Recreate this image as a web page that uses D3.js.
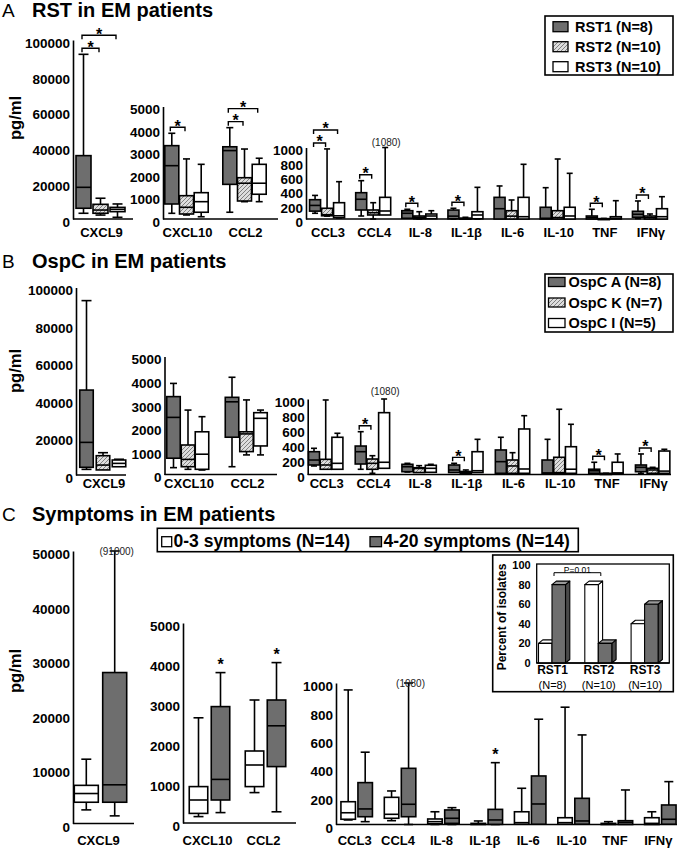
<!DOCTYPE html>
<html><head><meta charset="utf-8">
<script src="https://cdn.jsdelivr.net/npm/d3@7"></script>
<style>
body{margin:0;background:#fff;}
svg text{font-family:"Liberation Sans",Arial,Helvetica,sans-serif;}
</style></head><body>
<svg id="c" width="678" height="848"></svg>
<script>
// ---------------- DATA ----------------
const allCats = ["CXCL9","CXCL10","CCL2","CCL3","CCL4","IL-8","IL-1β","IL-6","IL-10","TNF","IFNγ"];
const yTicksBig = [0,20000,40000,60000,80000,100000];
const yTicksBigC = [0,10000,20000,30000,40000,50000];
const yTicksMid = [0,1000,2000,3000,4000,5000];
const yTicksSmall = [0,200,400,600,800,1000];

const seriesA = ["RST1 (N=8)","RST2 (N=10)","RST3 (N=10)"];
const seriesB = ["OspC A (N=8)","OspC K (N=7)","OspC I (N=5)"];
const seriesC = ["0-3 symptoms (N=14)","4-20 symptoms (N=14)"];

// box stats: [low whisker, Q1, median, Q3, high whisker] per category of allCats
const rst1 = [[3200,6000,17700,35400,92000],[253,667,2370,3260,3810],[300,1540,3040,3210,4060],
  [80,110,190,270,330],[42,126,276,368,536],[10,10,80,116,136],[0,3,40,125,150],
  [0,0,144,303,462],[0,0,10,164,438],[0,0,20,42,136],[5,24,66,108,252]];
const rst2 = [[2200,3200,5000,8200,11600],[178,222,520,1036,2670],[770,800,1590,1835,3110],
  [40,45,60,150,980],[0,56,88,126,228],[0,3,24,42,102],[0,0,5,12,24],
  [0,0,40,116,266],[0,0,20,116,839],[0,0,2,5,8],[0,0,20,42,70]];
const rst3 = [[950,4100,5400,6500,8400],[100,300,770,1170,2430],[770,1100,1590,2430,2700],
  [15,18,45,228,522],[56,56,112,303,1080],[4,4,42,70,116],[0,3,56,102,443],
  [0,0,32,303,765],[0,0,42,164,639],[0,0,10,32,256],[0,0,32,144,312]];

const ospcA = [[3000,4100,17400,45300,93000],[290,690,2420,3300,3860],[330,1580,3080,3270,4120],
  [113,126,192,302,347],[69,139,302,377,567],[33,37,103,135,148],[26,26,60,126,148],
  [16,16,170,325,493],[16,16,20,192,466],[16,16,50,70,162],[16,37,95,126,272]];
const ospcK = [[2700,2700,5300,10300,11900],[220,330,640,1250,2730],[830,970,1720,1810,3160],
  [69,69,126,201,987],[16,69,148,205,249],[26,26,80,90,117],[13,13,26,40,60],
  [16,16,113,192,289],[16,16,25,228,864],[10,10,12,14,16],[16,16,60,82,95]];
const ospcI = [[4400,4400,6200,8000,8400],[190,220,860,1810,2450],[830,1210,2380,2620,2730],
  [69,69,148,493,546],[82,82,162,819,1080],[29,29,82,122,135],[26,26,50,302,466],
  [16,16,73,603,779],[16,16,70,368,665],[16,16,20,162,272],[16,16,45,311,334]];

const sym03 = [[2500,3900,5500,7000,11800],[160,240,575,910,2630],[760,910,1450,1800,3075],
  [32,37,83,161,951],[27,44,72,192,237],[0,5,20,39,90],[0,0,5,8,25],
  [2,2,13,90,256],[2,2,13,48,829],[0,0,5,8,20],[0,0,8,48,90]];
const sym420 = [[1400,3900,7100,27700,91000],[260,575,1090,2910,3760],[280,1410,2430,3075,4010],
  [20,55,110,296,511],[0,55,143,397,1080],[0,8,44,103,119],[0,1,32,107,437],
  [2,2,145,343,744],[2,2,25,185,633],[0,0,15,27,244],[2,2,37,138,303]];

// significance: [category, series i, series j]
const sigA = [["CXCL9",0,1],["CXCL9",0,2],["CXCL10",0,1],["CCL2",0,1],["CCL2",0,2],
  ["CCL3",0,1],["CCL3",0,2],["CCL4",0,1],["IL-8",0,1],["IL-1β",0,1],["TNF",0,1],["IFNγ",0,1]];
const sigB = [["CCL4",0,1],["IL-1β",0,1],["TNF",0,1],["IFNγ",0,1]];
const sigC = [["CXCL10",1],["CCL2",1],["IL-1β",1]];
// off-scale whisker labels: [category, series, text]
const offA = [["CCL4",2,"(1080)"]];
const offB = [["CCL4",2,"(1080)"]];
const offC = [["CXCL9",1,"(91000)"],["CCL4",1,"(1080)"]];

// inset
const insetCats = ["RST1","RST2","RST3"];
const insetN = ["(N=8)","(N=10)","(N=10)"];
const pct03 = [20,80,40];
const pct420 = [80,20,60];
const insetTicks = [0,20,40,60,80,100];

// ---------------- DRAW ----------------
const FONT = '"Liberation Sans",Arial,Helvetica,sans-serif';
const svg = d3.select("#c");
const defs = svg.append("defs");
const pat = defs.append("pattern").attr("id","hatch").attr("patternUnits","userSpaceOnUse")
  .attr("width",4).attr("height",4);
pat.append("rect").attr("width",4).attr("height",4).attr("fill","#dedede");
pat.append("path").attr("d","M-1,1 l2,-2 M0,4 l4,-4 M3,5 l2,-2").attr("stroke","#808080").attr("stroke-width",1);
const GRAY = "#6e6e6e";
const SW = 1.6;

function txt(x,y,s,size,weight,anchor){
  return svg.append("text").attr("x",x).attr("y",y).text(s).attr("font-size",size)
    .attr("font-weight",weight||"bold").attr("text-anchor",anchor||"start").attr("fill","#000");
}
function line(x1,y1,x2,y2,w){
  return svg.append("line").attr("x1",x1).attr("y1",y1).attr("x2",x2).attr("y2",y2)
    .attr("stroke","#000").attr("stroke-width",w||SW);
}

function drawPanel(P){
  const subs = P.subs.map(s=>{
    const y = d3.scaleLinear().domain([0,s.max]).range([s.base,s.top]);
    const x = d3.scaleBand().domain(s.cats).range(s.band).padding(0);
    const ax = d3.axisLeft(y).tickValues(s.ticks).tickSize(0).tickPadding(3).tickFormat(d3.format("d"));
    const a = svg.append("g").attr("transform",`translate(${s.axisX},0)`).call(ax);
    a.select(".domain").attr("stroke","#000").attr("stroke-width",SW);
    a.selectAll("text").attr("font-size",13.5).attr("font-weight","bold").attr("font-family",FONT)
      .attr("fill","#000").attr("y",P.tickDy);
    line(s.axisX, s.base, s.xEnd, s.base);
    const xa = d3.axisBottom(x).tickSize(0).tickPadding(0);
    const b = svg.append("g").attr("transform",`translate(${P.labelDx},${P.labelY})`).call(xa);
    b.select(".domain").remove();
    b.selectAll("text").attr("font-size",13).attr("font-weight","bold").attr("font-family",FONT)
      .attr("fill","#000").attr("dy",0).attr("y",0);
    const cx = (cat,i)=> x(cat)+x.bandwidth()/2+s.off[i];
    const wOf = i => Array.isArray(s.w)? s.w[i] : s.w;
    s.cats.forEach(cat=>{
      const ci = allCats.indexOf(cat);
      P.series.forEach((ser,i)=>{
        const v = ser[ci];
        const c = cx(cat,i), w = wOf(i), hw = s.cap/2;
        const hi = Math.min(v[4], s.max);
        line(c, y(v[3]), c, y(hi));
        line(c-hw, y(hi), c+hw, y(hi));
        if (v[0] < v[1]) { line(c, y(v[1]), c, y(v[0])); line(c-hw, y(v[0]), c+hw, y(v[0])); }
        svg.append("rect").attr("x",c-w/2).attr("y",y(v[3])).attr("width",w)
          .attr("height",Math.max(1,y(v[1])-y(v[3]))).attr("fill",P.fills[i])
          .attr("stroke","#000").attr("stroke-width",SW);
        line(c-w/2, y(v[2]), c+w/2, y(v[2]));
      });
    });
    return {s,x,y,cx};
  });
  const find = cat => subs.find(o=>o.s.cats.includes(cat));
  const last = {};
  (P.sig||[]).forEach(([cat,i,j])=>{
    const o = find(cat); const ci = allCats.indexOf(cat);
    let top = Infinity;
    for (let k=i;k<=j;k++) top = Math.min(top, o.y(Math.min(P.series[k][ci][4], o.s.max)));
    let yb = top-6;
    if (last[cat]!==undefined) yb = Math.min(yb, last[cat]-13);
    last[cat] = yb;
    const x1 = o.cx(cat,i)-1.5, x2 = o.cx(cat,j)-1.5;
    svg.append("path").attr("d",`M${x1},${yb+4}V${yb}H${x2}V${yb+4}`).attr("fill","none")
      .attr("stroke","#000").attr("stroke-width",1.4);
    txt((x1+x2)/2, yb+4.5, "*", 16, "bold", "middle");
  });
  (P.sigSingle||[]).forEach(([cat,i])=>{
    const o = find(cat); const ci = allCats.indexOf(cat);
    const t = o.y(Math.min(P.series[i][ci][4], o.s.max));
    txt(o.cx(cat,i), t-3, "*", 16, "bold", "middle");
  });
  (P.off||[]).forEach(([cat,i,s])=>{
    const o = find(cat);
    txt(o.cx(cat,i)+P.offDx, o.y(o.s.max)+P.offDy, s, 10, "normal", "middle").attr("fill","#222");
  });
}

// ---- Panel A ----
txt(2,17,"A",19,"normal");
txt(32,17,"RST in EM patients",20,"bold");
svg.append("text").attr("transform","translate(15,118) rotate(-90)").attr("text-anchor","middle")
  .attr("dy","0.35em").attr("font-size",16.5).attr("font-weight","bold").text("pg/ml");
drawPanel({
  series:[rst1,rst2,rst3], fills:[GRAY,"url(#hatch)","#fff"], labelY:237, labelDx:1, tickDy:3,
  sig:sigA, off:offA, offDx:1, offDy:-1.5,
  subs:[
    {cats:allCats.slice(0,1), axisX:73, base:219, top:40, max:100000, ticks:yTicksBig, xEnd:133, band:[73,128], off:[-17,0,17], w:15, cap:10},
    {cats:allCats.slice(1,3), axisX:163, base:219, top:106.5, max:5000, ticks:yTicksMid, xEnd:278, band:[157.5,273.5], off:[-14.7,0,14.7], w:14, cap:7},
    {cats:allCats.slice(3), axisX:306, base:219, top:147.5, max:1000, ticks:yTicksSmall, xEnd:668, band:[304,673], off:[-12,0,12], w:11, cap:6}
  ]});
svg.append("rect").attr("x",545).attr("y",16).attr("width",128).attr("height",59)
  .attr("fill","#fff").attr("stroke","#000").attr("stroke-width",1.6);
seriesA.forEach((s,i)=>{
  const cy = 26.7+i*20;
  svg.append("rect").attr("x",553).attr("y",cy-5).attr("width",15).attr("height",10)
    .attr("fill",[GRAY,"url(#hatch)","#fff"][i]).attr("stroke","#000").attr("stroke-width",1.3);
  txt(575, cy+5, s, 14.5, "bold");
});

// ---- Panel B ----
txt(2,268,"B",19,"normal");
txt(32,268,"OspC in EM patients",20,"bold");
svg.append("text").attr("transform","translate(15,371) rotate(-90)").attr("text-anchor","middle")
  .attr("dy","0.35em").attr("font-size",16.5).attr("font-weight","bold").text("pg/ml");
drawPanel({
  series:[ospcA,ospcK,ospcI], fills:[GRAY,"url(#hatch)","#fff"], labelY:488, labelDx:1, tickDy:3,
  sig:sigB, off:offB, offDx:1, offDy:-4,
  subs:[
    {cats:allCats.slice(0,1), axisX:76, base:475, top:287.5, max:100000, ticks:yTicksBig, xEnd:126, band:[76,130], off:[-16.5,0,16], w:13.5, cap:10},
    {cats:allCats.slice(1,3), axisX:164.5, base:474.5, top:356.5, max:5000, ticks:yTicksMid, xEnd:277, band:[158.75,275.75], off:[-14.5,0,14], w:13.5, cap:7},
    {cats:allCats.slice(3), axisX:307.7, base:474.5, top:399, max:1000, ticks:yTicksSmall, xEnd:671, band:[302.35,676], off:[-11.7,0,11.7], w:11, cap:6}
  ]});
svg.append("rect").attr("x",545).attr("y",274).attr("width",128).attr("height",58)
  .attr("fill","#fff").attr("stroke","#000").attr("stroke-width",1.6);
seriesB.forEach((s,i)=>{
  const cy = 282+i*20.5;
  svg.append("rect").attr("x",548.5).attr("y",cy-4.5).attr("width",16.5).attr("height",9)
    .attr("fill",[GRAY,"url(#hatch)","#fff"][i]).attr("stroke","#000").attr("stroke-width",1.3);
  txt(568.5, cy+5, s, 14.5, "bold");
});

// ---- Panel C ----
txt(2,521,"C",19,"normal");
txt(32,521,"Symptoms in EM patients",20,"bold");
svg.append("text").attr("transform","translate(15,671) rotate(-90)").attr("text-anchor","middle")
  .attr("dy","0.35em").attr("font-size",16.5).attr("font-weight","bold").text("pg/ml");
drawPanel({
  series:[sym03,sym420], fills:["#fff",GRAY], labelY:845, labelDx:-2, tickDy:3.5,
  sigSingle:sigC, off:offC, offDx:2, offDy:3.5,
  subs:[
    {cats:allCats.slice(0,1), axisX:73, base:823.5, top:551, max:50000, ticks:yTicksBigC, xEnd:134, band:[73,128], off:[-14.2,14.2], w:24, cap:10},
    {cats:allCats.slice(1,3), axisX:183, base:823, top:623, max:5000, ticks:yTicksMid, xEnd:296, band:[181.5,293.5], off:[-11,11], w:18.5, cap:10},
    {cats:allCats.slice(3), axisX:336, base:824.5, top:683, max:1000, ticks:yTicksSmall, xEnd:677, band:[335,682], off:[-8.5,8.5], w:14.5, cap:9}
  ]});
svg.append("rect").attr("x",157.3).attr("y",528.3).attr("width",421).attr("height",23.4)
  .attr("fill","#fff").attr("stroke","#000").attr("stroke-width",1.6);
svg.append("rect").attr("x",161.7).attr("y",536.7).attr("width",10).attr("height",10)
  .attr("fill","#fff").attr("stroke","#000").attr("stroke-width",1.3);
txt(173.5,547,seriesC[0],17.5,"bold");
svg.append("rect").attr("x",370).attr("y",536.7).attr("width",11.5).attr("height",10)
  .attr("fill",GRAY).attr("stroke","#000").attr("stroke-width",1.3);
txt(383.5,547,seriesC[1],17.5,"bold");

// ---- Inset ----
svg.append("rect").attr("x",492.7).attr("y",555).attr("width",180.6).attr("height",136.7)
  .attr("fill","#fff").attr("stroke","#000").attr("stroke-width",1.6);
const iy = d3.scaleLinear().domain([0,100]).range([663,565]);
const ix = d3.scalePoint().domain(insetCats).range([552.5,645.1]);
svg.append("rect").attr("x",536.7).attr("y",564).attr("width",132.6).attr("height",99)
  .attr("fill","none").attr("stroke","#000").attr("stroke-width",1.3);
const iax = d3.axisLeft(iy).tickValues(insetTicks).tickSize(0).tickPadding(6);
const ia = svg.append("g").attr("transform","translate(536.7,0)").call(iax);
ia.select(".domain").remove();
ia.selectAll("text").attr("font-size",11).attr("font-weight","bold").attr("font-family",FONT).attr("fill","#000");
svg.append("text").attr("transform","translate(502,617) rotate(-90)").attr("text-anchor","middle")
  .attr("dy","0.35em").attr("font-size",12).attr("font-weight","bold").text("Percent of isolates");
function bar3d(x0,w,val,front,top,side){
  const dx=4.3, dy=3.5, yt=iy(val), yb=iy(0);
  const g = svg.append("g").attr("stroke","#000").attr("stroke-width",1.1).attr("stroke-linejoin","round");
  g.append("path").attr("d",`M${x0+w},${yt}L${x0+w+dx},${yt-dy}L${x0+w+dx},${yb-dy}L${x0+w},${yb}Z`).attr("fill",side);
  g.append("path").attr("d",`M${x0},${yt}L${x0+dx},${yt-dy}L${x0+w+dx},${yt-dy}L${x0+w},${yt}Z`).attr("fill",top);
  g.append("rect").attr("x",x0).attr("y",yt).attr("width",w).attr("height",yb-yt).attr("fill",front);
}
insetCats.forEach((c,i)=>{
  const cx = ix(c);
  bar3d(cx-14, 13.5, pct03[i], "#fff", "#fff", "#fff");
  bar3d(cx-0.5, 13.5, pct420[i], GRAY, "#9a9a9a", "#4a4a4a");
  txt(cx, 674, c, 12, "bold", "middle");
  txt(cx, 688.5, insetN[i], 11, "normal", "middle");
});
line(536.7,663,669.3,663,1.3);
{
  const x1 = ix("RST1")+1.5, x2 = ix("RST2")+2;
  svg.append("path").attr("d",`M${x1},576V572.7H${x2}V576`).attr("fill","none").attr("stroke","#000").attr("stroke-width",1);
  txt((x1+x2)/2, 572.5, "P=0.01", 8.5, "normal", "middle");
}
</script>
</body></html>
